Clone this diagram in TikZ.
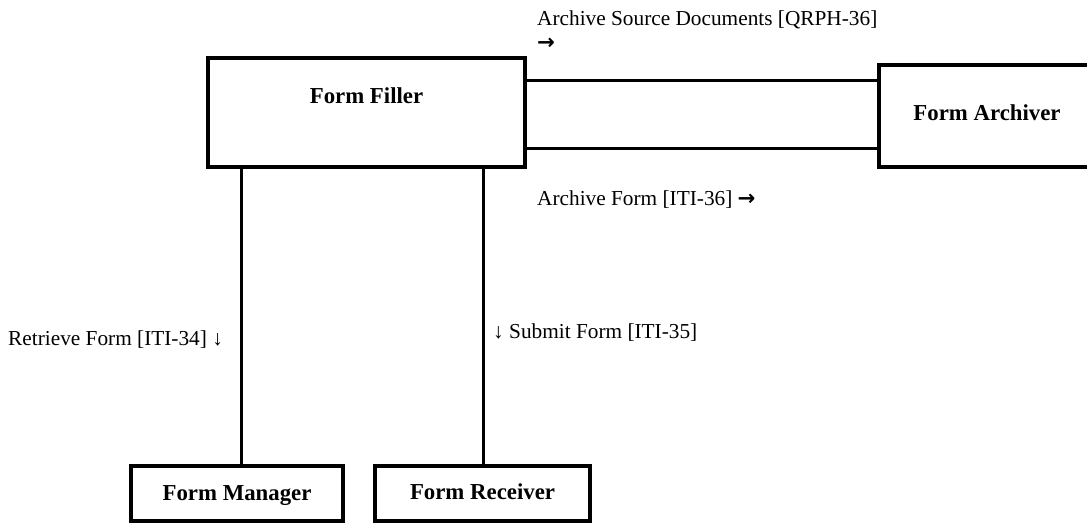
\documentclass[tikz,border=0pt]{standalone}
\usepackage{fontspec}
\setmainfont{Liberation Serif}
\newfontfamily\arrowfont{DejaVu Sans}
\begin{document}
\begin{tikzpicture}[x=1pt,y=-1pt,
  box/.style={draw,line width=3.4pt,inner sep=0pt},
  conn/.style={line width=3pt},
  title/.style={font=\fontsize{22.8}{27}\selectfont\bfseries,anchor=base,inner sep=0pt},
  lbl/.style={font=\fontsize{21.3}{25}\selectfont,anchor=base west,inner sep=0pt}]
\useasboundingbox (0,0) rectangle (1087,525);
\node[box,minimum width=317pt,minimum height=109pt] (filler) at (366.5,112.5) {};
\node[box,minimum width=216pt,minimum height=102pt] (archiver) at (987,116) {};
\node[box,minimum width=212pt,minimum height=55pt] (manager) at (237,493.5) {};
\node[box,minimum width=215pt,minimum height=55pt] (receiver) at (482.5,493.5) {};
\node[title] (tfiller) at (366.5,103) {Form Filler};
\node[title] (tarchiver) at (987,120) {Form Archiver};
\node[title] (tmanager) at (237,500) {Form Manager};
\node[title] (treceiver) at (482.5,499) {Form Receiver};
\draw[conn] (filler.east |- 0,80) -- (archiver.west |- 0,80);
\draw[conn] (filler.east |- 0,148) -- (archiver.west |- 0,148);
\draw[conn] (filler.south -| 241,0) -- (manager.north -| 241,0);
\draw[conn] (filler.south -| 483,0) -- (receiver.north -| 483,0);
\node[lbl] (l1) at (537,25) {Archive Source Documents [QRPH-36]};
\node[lbl] (l1b) at (537,49) {{\arrowfont\bfseries →}};
\node[lbl] (l2) at (537,205) {Archive Form [ITI-36] {\arrowfont\bfseries →}};
\node[lbl] (l3) at (8,345) {Retrieve Form [ITI-34] ↓};
\node[lbl] (l4) at (493,338) {↓ Submit Form [ITI-35]};
\end{tikzpicture}
\end{document}
